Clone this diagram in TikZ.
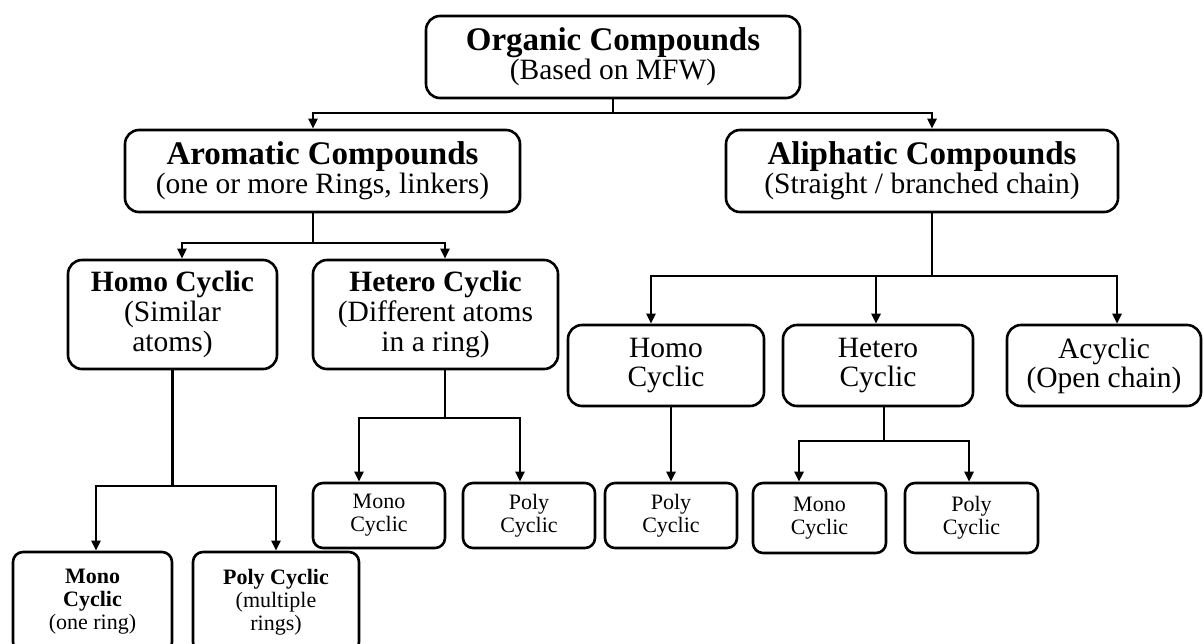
\documentclass[tikz,border=0pt]{standalone}
\usepackage{fontspec}
\setmainfont{Liberation Serif}
\usetikzlibrary{arrows.meta}

\newcommand{\hd}[1]{{\bfseries\fontsize{16.5}{14.5}\selectfont #1}}

\begin{document}
\begin{tikzpicture}[x=0.5pt, y=-0.5pt, >={Triangle[length=5pt,width=4.5pt]},
  box/.style={draw,line width=1.3pt,rounded corners=7pt,align=center,inner sep=0pt},
  big/.style={box,minimum height=41pt,font=\fontsize{14.75}{14.5}\selectfont},
  mid/.style={box,minimum height=54.5pt,font=\fontsize{14.75}{15}\selectfont},
  sml/.style={box,rounded corners=5pt,minimum height=32.5pt,font=\fontsize{11}{11.5}\selectfont},
  line/.style={line width=1.2pt}]
\useasboundingbox (0,0) rectangle (1203,643);

% levels 1 and 2
\node[big,minimum width=187pt] (org) at (613,57) {\hd{Organic Compounds}\\(Based on MFW)};
\node[big,minimum width=197.5pt] (aro) at (322.5,171) {\hd{Aromatic Compounds}\\(one or more Rings, linkers)};
\node[big,minimum width=196pt] (ali) at (922,171) {\hd{Aliphatic Compounds}\\(Straight / branched chain)};

% aromatic side
\node[mid,minimum width=104.5pt] (arhomo) at (172.5,314.5) {\textbf{Homo Cyclic}\\(Similar\\atoms)};
\node[mid,minimum width=122.5pt] (arhet) at (435.5,314.5) {\textbf{Hetero Cyclic}\\(Different atoms\\in a ring)};
\node[sml,minimum width=79.5pt,minimum height=50pt] (armono) at (92.5,602) {\textbf{Mono}\\\textbf{Cyclic}\\(one ring)};
\node[sml,minimum width=83pt,minimum height=50pt] (arpoly) at (276,602) {\textbf{Poly Cyclic}\\(multiple\\rings)};
\node[sml,minimum width=66pt] (hemono) at (379,515.5) {Mono\\Cyclic};
\node[sml,minimum width=66pt] (hepoly) at (529,515.5) {Poly\\Cyclic};

% aliphatic side
\node[big,minimum width=98pt,minimum height=40.5pt] (alhomo) at (666,365.5) {Homo\\Cyclic};
\node[big,minimum width=95pt,minimum height=40.5pt] (alhet) at (878,365.5) {Hetero\\Cyclic};
\node[big,minimum width=97pt,minimum height=40.5pt] (alacyc) at (1104,365.5) {Acyclic\\(Open chain)};
\node[sml,minimum width=66pt] (alpoly) at (671,515.5) {Poly\\Cyclic};
\node[sml,minimum width=66.5pt,minimum height=35pt] (alhemono) at (819.5,518) {Mono\\Cyclic};
\node[sml,minimum width=66.5pt,minimum height=35pt] (alhepoly) at (971.5,518) {Poly\\Cyclic};

% junction points
\coordinate (t1) at (313,113); \coordinate (t2) at (932,113);
\coordinate (a1) at (182,243); \coordinate (a2) at (445,243);
\coordinate (h1) at (96,486);  \coordinate (h2) at (276,486);
\coordinate (e1) at (359,418); \coordinate (e2) at (520,418);
\coordinate (u1) at (651,276); \coordinate (u2) at (876,276); \coordinate (u3) at (1117,276);
\coordinate (v0) at (884,441); \coordinate (v1) at (799,441); \coordinate (v2) at (969,441);

\draw[line] (org) -- (org.south |- t1);
\draw[line,<->] (t1 |- aro.north) -- (t1) -- (t2) -- (t2 |- ali.north);

\draw[line] (t1 |- aro.south) -- (t1 |- a1);
\draw[line,<->] (a1 |- arhomo.north) -- (a1) -- (a2) -- (a2 |- arhet.north);

\draw[line] (arhomo) -- (arhomo.south |- h1);
\draw[line,<->] (h1 |- armono.north) -- (h1) -- (h2) -- (h2 |- arpoly.north);

\draw[line] (a2 |- arhet.south) -- (a2 |- e1);
\draw[line,<->] (e1 |- hemono.north) -- (e1) -- (e2) -- (e2 |- hepoly.north);

\draw[line] (t2 |- ali.south) -- (t2 |- u1);
\draw[line,<->] (u1 |- alhomo.north) -- (u1) -- (u3) -- (u3 |- alacyc.north);
\draw[line,->] (u2) -- (u2 |- alhet.north);

\draw[line,->] (alhomo.south -| alpoly.north) -- (alpoly.north);

\draw[line] (v0 |- alhet.south) -- (v0);
\draw[line,<->] (v1 |- alhemono.north) -- (v1) -- (v2) -- (v2 |- alhepoly.north);
\end{tikzpicture}
\end{document}
